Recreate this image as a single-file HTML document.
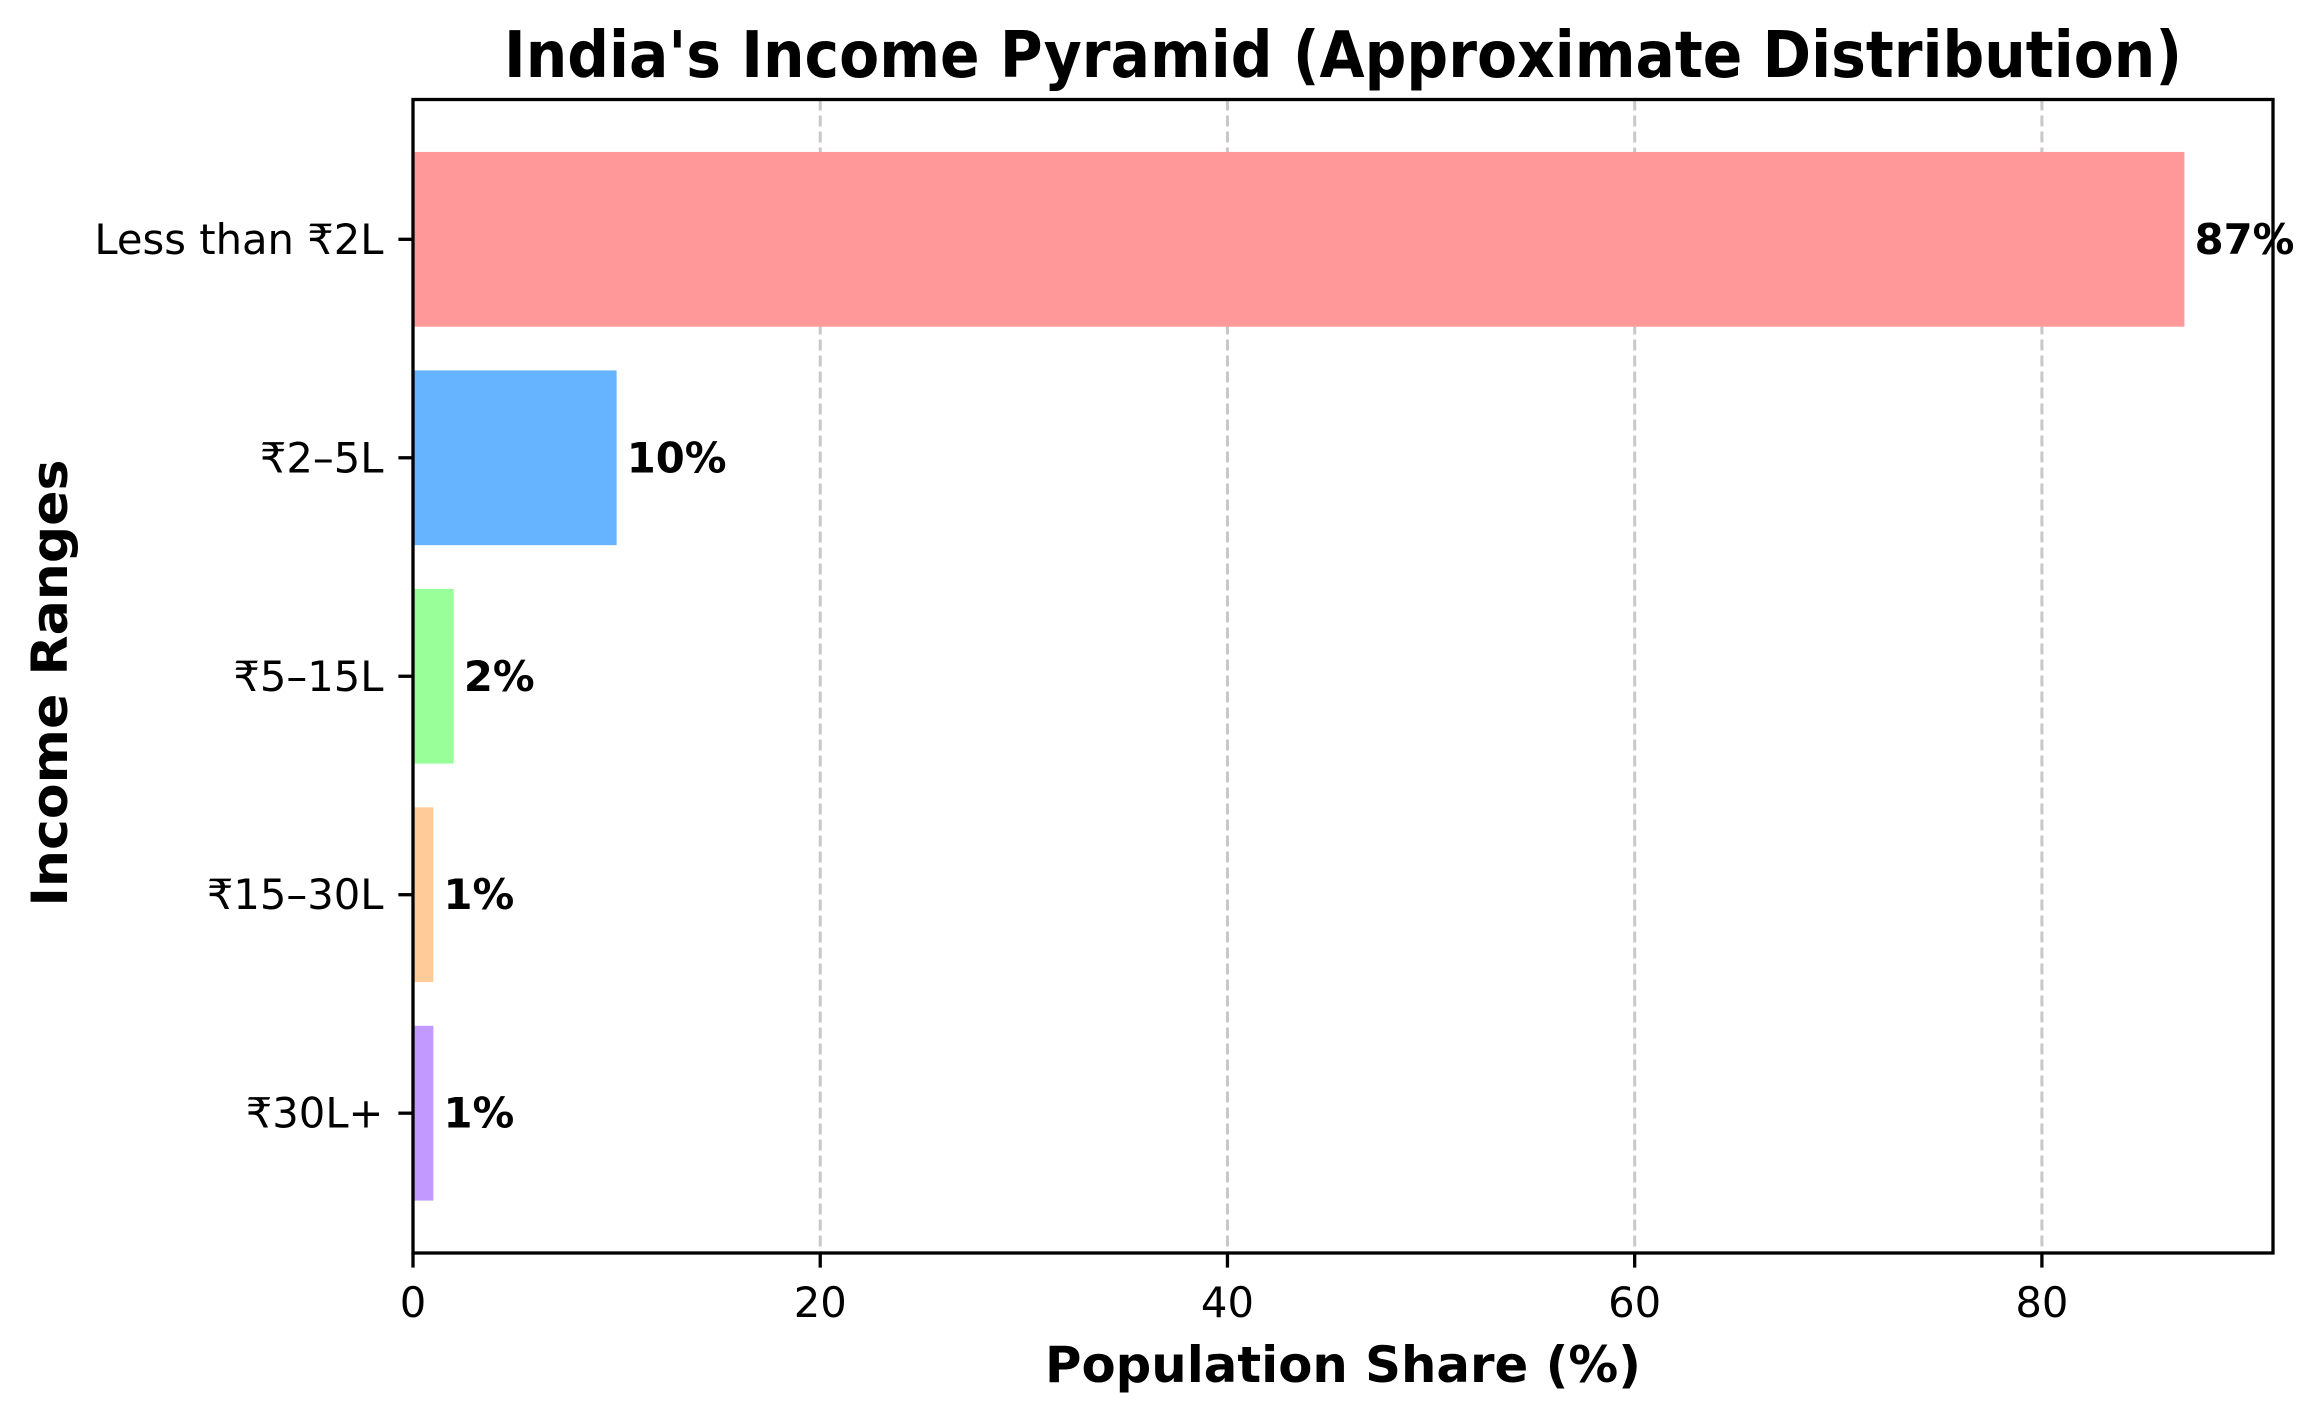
<!DOCTYPE html>
<html>
<head>
<meta charset="utf-8">
<style>
  html, body { margin: 0; padding: 0; background: #ffffff; }
  svg { display: block; }
  text { font-family: "DejaVu Sans", "Liberation Sans", sans-serif; fill: #000; }
</style>
</head>
<body>
<svg id="chart" xmlns="http://www.w3.org/2000/svg" width="2324" height="1418" viewBox="0 0 2324 1418">
  <rect x="0" y="0" width="2324" height="1418" fill="#ffffff"/>
  <g id="grid"></g>
  <g id="bars"></g>
  <g id="values"></g>
  <g id="axes"></g>
  <text x="1343" y="77" text-anchor="middle" font-size="64" font-weight="bold" textLength="1678" lengthAdjust="spacingAndGlyphs">India's Income Pyramid (Approximate Distribution)</text>
  <text x="1343" y="1382" text-anchor="middle" font-size="50" font-weight="bold" textLength="596" lengthAdjust="spacingAndGlyphs">Population Share (%)</text>
  <text x="0" y="0" transform="translate(67,683) rotate(-90)" text-anchor="middle" font-size="50" font-weight="bold" textLength="447" lengthAdjust="spacingAndGlyphs">Income Ranges</text>
</svg>
<script>
const categories = ["Less than ₹2L", "₹2–5L", "₹5–15L", "₹15–30L", "₹30L+"];
const shares = [87, 10, 2, 1, 1];
const barColors = ["#ff9999", "#66b3ff", "#99ff99", "#ffcc99", "#c299ff"];
const xTicks = [0, 20, 40, 60, 80];
const valueLabels = ["87%", "10%", "2%", "1%", "1%"];

const NS = "http://www.w3.org/2000/svg";
const plot = { left: 413, right: 2273, top: 99.5, bottom: 1253 };
const xMax = Math.max(...shares) * 1.05;
const yMin = -0.64, yMax = (categories.length - 1) + 0.64;
function xScale(v) { return plot.left + (v / xMax) * (plot.right - plot.left); }
function yScale(i) { return plot.top + ((i - yMin) / (yMax - yMin)) * (plot.bottom - plot.top); }
const unitH = (plot.bottom - plot.top) / (yMax - yMin);

function mk(tag, attrs) {
  const el = document.createElementNS(NS, tag);
  for (const k in attrs) el.setAttribute(k, attrs[k]);
  return el;
}

const grid = document.getElementById("grid");
const bars = document.getElementById("bars");
const values = document.getElementById("values");
const axes = document.getElementById("axes");

// grid lines
xTicks.forEach((t) => {
  if (t === 0) return;
  const gl = mk("line", { x1: xScale(t), x2: xScale(t), y1: plot.top, y2: plot.bottom, stroke: "#b0b0b0", "stroke-opacity": "0.7", "stroke-width": "3", "stroke-dasharray": "11,5" });
  
  
  grid.appendChild(gl);
});

// bars + value labels
categories.forEach((c, i) => {
  const cy = yScale(i);
  const h = unitH * 0.8;
  const r = mk("rect", { x: xScale(0), y: cy - h / 2, width: xScale(shares[i]) - xScale(0), height: h, fill: barColors[i] });
  
  
  bars.appendChild(r);

  const t = mk("text", { x: xScale(shares[i] + 0.5), y: cy, "dominant-baseline": "central", "font-size": "41.7", "font-weight": "bold" });
  t.textContent = valueLabels[i];
  
  
  values.appendChild(t);

  const tk = mk("line", { x1: plot.left - 14.6, x2: plot.left, y1: cy, y2: cy, stroke: "#000", "stroke-width": "3.3" });
  
  
  axes.appendChild(tk);

  const tl = mk("text", { x: plot.left - 29.5, y: cy, "text-anchor": "end", "dominant-baseline": "central", "font-size": "41.7" });
  tl.textContent = c;
  
  
  axes.appendChild(tl);
});

// x ticks
xTicks.forEach((t) => {
  const tk = mk("line", { x1: xScale(t), x2: xScale(t), y1: plot.bottom, y2: plot.bottom + 14.6, stroke: "#000", "stroke-width": "3.3" });
  
  
  axes.appendChild(tk);
  const tl = mk("text", { x: xScale(t), y: 1317, "text-anchor": "middle", "font-size": "41.7" });
  tl.textContent = String(t);
  
  
  axes.appendChild(tl);
});

// frame
const frame = mk("rect", { x: plot.left, y: plot.top, width: plot.right - plot.left, height: plot.bottom - plot.top, fill: "none", stroke: "#000", "stroke-width": "3.3" });


axes.appendChild(frame);
</script>
</body>
</html>
